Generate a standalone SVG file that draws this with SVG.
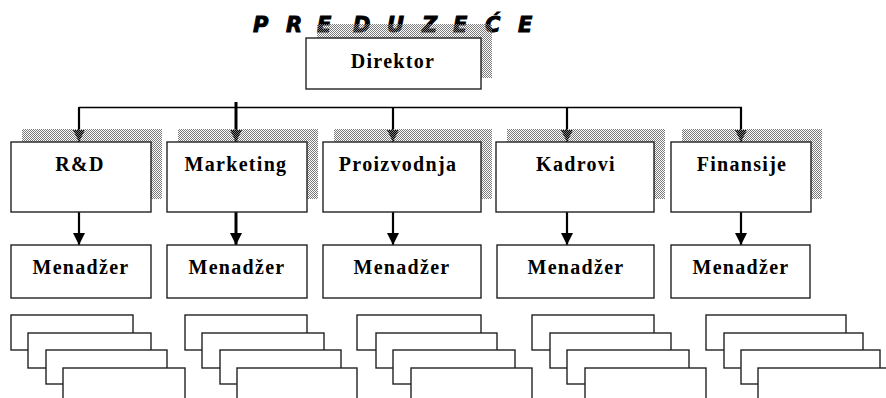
<svg xmlns="http://www.w3.org/2000/svg" width="886" height="398" viewBox="0 0 886 398">
<defs>
<pattern id="dots" width="2" height="2" patternUnits="userSpaceOnUse">
<rect x="0" y="0" width="1" height="1" fill="#7a7a7a"/>
<rect x="1" y="1" width="1" height="1" fill="#7a7a7a"/>
</pattern>
<marker id="arr" markerWidth="12" markerHeight="12" refX="12" refY="6" orient="auto" markerUnits="userSpaceOnUse">
<path d="M0,0 L12,6 L0,12 Z" fill="#000"/>
</marker>
</defs>
<style>
.box{fill:#fff;stroke:#222;stroke-width:1.4}
.shadow{fill:url(#dots);stroke:none}
.lbl{font-family:"Liberation Serif","Times New Roman",serif;font-weight:bold;font-size:20px;letter-spacing:1.3px;fill:#000;text-anchor:middle}
.title{font-family:"DejaVu Sans","Liberation Sans",sans-serif;font-weight:bold;font-style:italic;font-size:21px;fill:#000;stroke:#000;stroke-width:0.9}
.conn{stroke:#000;stroke-width:2.2;fill:none}
.hline{stroke:#000;stroke-width:1.5;fill:none}
.stack{fill:#fff;stroke:#222;stroke-width:1.4}
</style>
<rect width="886" height="398" fill="#fff"/>

<g id="title">
<text class="title" y="32"><tspan x="253">P</tspan><tspan x="286">R</tspan><tspan x="317">E</tspan><tspan x="353">D</tspan><tspan x="387">U</tspan><tspan x="422">Z</tspan><tspan x="453">E</tspan><tspan x="485">Ć</tspan><tspan x="518">E</tspan></text>
</g>

<g id="direktor">
<rect class="shadow" x="317" y="24" width="175" height="54"/>
<rect class="box" x="306" y="38" width="175" height="51"/>
<text class="lbl" x="393" y="68">Direktor</text>
</g>

<g id="connectors">
<path class="hline" d="M79,107.5 H742"/>
<path class="conn" d="M79,107 V142" marker-end="url(#arr)"/>
<path class="conn" d="M236,102 V142" marker-end="url(#arr)" style="stroke-width:3"/>
<path class="conn" d="M393,107 V142" marker-end="url(#arr)"/>
<path class="conn" d="M567,107 V142" marker-end="url(#arr)"/>
<path class="conn" d="M741,107 V142" marker-end="url(#arr)"/>
<path class="conn" d="M79,212 V245" marker-end="url(#arr)"/>
<path class="conn" d="M236,212 V245" marker-end="url(#arr)" style="stroke-width:3"/>
<path class="conn" d="M393,212 V245" marker-end="url(#arr)"/>
<path class="conn" d="M567,212 V245" marker-end="url(#arr)"/>
<path class="conn" d="M741,212 V245" marker-end="url(#arr)"/>
</g>

<g id="rd">
<rect class="shadow" x="22" y="129" width="140" height="70"/>
<rect class="box" x="11" y="142" width="140" height="70"/>
<text class="lbl" x="80" y="171">R&amp;D</text>
</g>
<g id="marketing">
<rect class="shadow" x="178" y="129" width="140" height="70"/>
<rect class="box" x="167" y="142" width="140" height="70"/>
<text class="lbl" x="236" y="171">Marketing</text>
</g>
<g id="proizvodnja">
<rect class="shadow" x="334" y="129" width="158" height="70"/>
<rect class="box" x="323" y="142" width="158" height="70"/>
<text class="lbl" x="398" y="171">Proizvodnja</text>
</g>
<g id="kadrovi">
<rect class="shadow" x="507" y="129" width="158" height="70"/>
<rect class="box" x="496" y="142" width="158" height="70"/>
<text class="lbl" x="576" y="171">Kadrovi</text>
</g>
<g id="finansije">
<rect class="shadow" x="682" y="129" width="140" height="70"/>
<rect class="box" x="671" y="142" width="140" height="70"/>
<text class="lbl" x="742" y="171">Finansije</text>
</g>

<g id="menadzer-rd">
<rect class="box" x="11" y="245" width="140" height="53"/>
<text class="lbl" x="81" y="274">Menadžer</text>
</g>
<g id="menadzer-marketing">
<rect class="box" x="167" y="245" width="140" height="53"/>
<text class="lbl" x="237" y="274">Menadžer</text>
</g>
<g id="menadzer-proizvodnja">
<rect class="box" x="323" y="245" width="158" height="53"/>
<text class="lbl" x="402" y="274">Menadžer</text>
</g>
<g id="menadzer-kadrovi">
<rect class="box" x="497" y="245" width="157" height="53"/>
<text class="lbl" x="576" y="274">Menadžer</text>
</g>
<g id="menadzer-finansije">
<rect class="box" x="671" y="245" width="139" height="53"/>
<text class="lbl" x="741" y="274">Menadžer</text>
</g>

<g id="staff-rd">
<rect class="stack" x="11" y="315" width="122" height="35"/>
<rect class="stack" x="28" y="333" width="123" height="35"/>
<rect class="stack" x="46" y="350" width="121" height="34"/>
<rect class="stack" x="63" y="368" width="122" height="40"/>
</g>
<g id="staff-marketing">
<rect class="stack" x="185" y="315" width="122" height="35"/>
<rect class="stack" x="202" y="333" width="122" height="35"/>
<rect class="stack" x="220" y="350" width="121" height="34"/>
<rect class="stack" x="237" y="368" width="120" height="40"/>
</g>
<g id="staff-proizvodnja">
<rect class="stack" x="357" y="315" width="124" height="35"/>
<rect class="stack" x="376" y="333" width="121" height="35"/>
<rect class="stack" x="393" y="350" width="122" height="34"/>
<rect class="stack" x="411" y="368" width="121" height="40"/>
</g>
<g id="staff-kadrovi">
<rect class="stack" x="532" y="315" width="122" height="35"/>
<rect class="stack" x="550" y="333" width="121" height="35"/>
<rect class="stack" x="567" y="350" width="122" height="34"/>
<rect class="stack" x="585" y="368" width="121" height="40"/>
</g>
<g id="staff-finansije">
<rect class="stack" x="706" y="315" width="140" height="35"/>
<rect class="stack" x="724" y="333" width="139" height="35"/>
<rect class="stack" x="741" y="350" width="139" height="34"/>
<rect class="stack" x="758" y="368" width="140" height="40"/>
</g>
</svg>
